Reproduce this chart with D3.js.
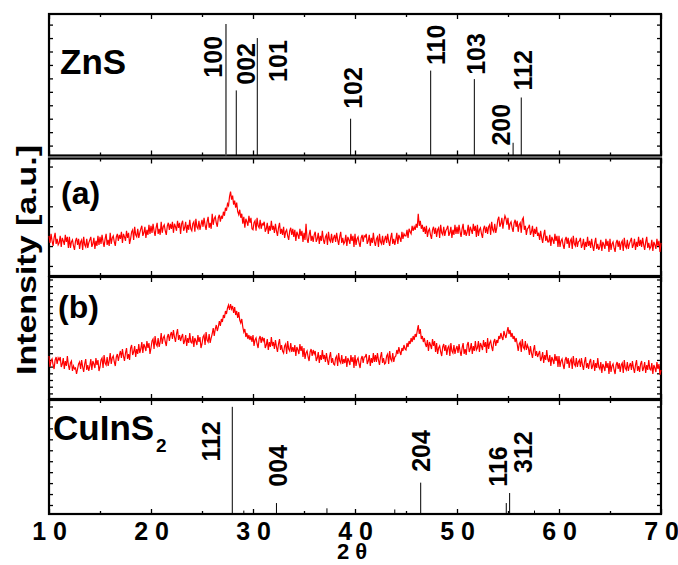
<!DOCTYPE html>
<html>
<head>
<meta charset="utf-8">
<script src="https://cdn.jsdelivr.net/npm/d3@7"></script>
<style>
body { margin: 0; background: #fff; }
svg { display: block; font-family: "Liberation Sans", Arial, sans-serif; }
</style>
</head>
<body>
<svg id="chart" width="678" height="565"></svg>
<script>
'use strict';

// x axis
const xTicks = [10, 20, 30, 40, 50, 60, 70];
const xTickLabels = ["1 0", "2 0", "3 0", "4 0", "5 0", "6 0", "7 0"];

// measured patterns, sampled every 0.1 deg from 10 to 70 (one row per degree)
const thetaStart = 10;
const thetaStep = 0.1;
const sampleA = [
	40,33,42,35,30,38,43,32,37,31, 33,40,29,38,35,31,41,34,39,28,
	39,28,34,36,30,26,35,38,31,37, 27,34,36,26,39,31,29,37,28,33,
	36,39,29,32,38,27,35,30,40,31, 39,32,41,34,29,37,42,31,36,30,
	43,32,38,40,34,30,39,42,35,41, 37,44,33,42,39,35,45,38,43,32,
	37,44,46,36,49,41,39,47,38,43, 47,50,40,43,49,38,46,41,51,42,
	50,43,52,45,40,48,53,42,47,41, 54,43,49,51,45,41,50,53,46,52,
	47,54,43,52,49,45,55,48,53,42, 52,55,45,48,54,43,51,46,56,47,
	45,52,54,44,57,49,47,55,46,51, 56,49,58,51,46,54,59,48,53,47,
	62,51,57,59,53,49,58,61,54,60, 57,64,60,68,65,72,70,79,84,76,
	80,71,75,68,73,64,61,66,58,62, 52,59,48,57,54,50,60,53,58,47,
	46,53,55,45,58,50,48,56,47,52, 51,54,44,47,53,42,50,45,55,46,
	50,43,52,45,40,48,53,42,47,41, 49,38,44,46,40,36,45,48,41,47,
	39,46,35,44,41,37,47,40,45,34, 43,36,52,37,33,41,46,35,40,34,
	41,44,34,37,43,32,40,35,45,36, 32,39,41,31,44,36,34,42,33,38,
	41,34,43,36,31,39,44,33,38,32, 34,41,30,39,36,32,42,35,40,29,
	42,31,37,39,33,29,38,41,34,40, 39,42,32,35,41,30,38,33,43,34,
	30,37,39,29,42,34,32,40,31,36, 40,33,42,35,30,38,43,32,37,31,
	36,43,32,41,38,34,44,37,42,40, 40,46,38,47,44,42,50,45,49,46,
	52,48,62,50,55,47,51,44,49,42, 50,39,45,47,41,37,46,49,42,48,
	39,46,48,38,51,43,41,49,40,45, 47,50,40,43,49,38,46,41,51,42,
	49,42,51,44,39,47,52,41,46,40, 44,51,40,49,46,42,52,45,50,39,
	51,40,46,48,42,38,47,50,43,49, 42,49,51,41,54,46,44,52,43,48,
	56,59,49,52,58,47,55,60,57,51, 58,46,52,54,48,44,53,56,49,55,
	44,51,53,43,56,58,46,50,41,47, 48,51,41,44,50,39,47,42,49,40,
	43,36,45,38,33,41,46,35,40,34, 34,41,30,39,36,32,42,35,40,29,
	40,29,35,37,31,27,36,39,32,38, 28,35,37,27,40,32,30,38,29,34,
	35,38,28,31,37,26,34,29,39,30, 35,28,37,30,25,33,38,27,32,26,
	29,36,25,34,31,27,37,30,35,24, 37,26,32,34,28,24,33,36,29,35,
	26,33,35,25,38,30,28,36,27,32, 35,38,28,31,37,26,34,29,39,30,
	36,29,38,31,26,34,39,28,33,27, 29,36,25,34,31,27,37,30,35,24,
	33
];
const sampleB = [
	43,32,38,40,34,30,39,42,35,41, 39,42,32,35,41,30,38,33,43,34,
	29,36,38,28,33,30,31,25,30,35, 37,30,39,32,27,35,40,29,34,28,
	33,40,29,38,35,31,41,34,39,28, 32,39,41,31,44,36,34,42,33,38,
	46,35,41,43,37,33,42,45,38,44, 48,41,50,43,38,46,51,40,45,39,
	51,54,44,47,53,42,50,45,55,46, 50,57,46,55,52,48,58,51,56,45,
	51,58,60,50,63,55,53,61,52,57, 66,55,61,63,57,53,62,65,58,64,
	67,60,69,62,57,65,70,59,64,58, 62,65,55,58,64,53,61,56,66,57,
	56,63,52,61,58,54,64,57,62,51, 55,62,64,54,67,59,57,65,56,61,
	65,71,63,70,74,68,72,78,73,80, 77,84,81,88,85,91,94,89,95,90,
	93,86,92,84,88,81,87,79,76,80, 72,67,70,62,66,60,64,59,63,57,
	64,53,59,61,55,51,60,63,56,62, 58,61,51,54,60,49,57,52,62,53,
	57,50,59,52,47,55,60,49,54,48, 46,53,55,45,58,50,48,56,47,52,
	47,54,43,52,49,45,55,48,53,42, 51,40,46,48,42,38,47,50,43,49,
	45,48,38,41,47,36,44,39,49,40, 44,37,46,39,34,42,47,36,41,35,
	34,41,43,33,46,38,36,44,35,40, 36,43,32,41,38,34,44,37,42,31,
	44,33,39,41,35,31,40,43,36,42, 42,45,35,38,44,33,41,36,46,37,
	44,37,46,39,34,42,47,36,41,35, 36,43,45,35,48,40,38,46,37,42,
	43,49,45,52,47,44,51,48,54,50, 49,56,52,58,55,61,57,63,59,65,
	62,68,74,65,70,60,63,57,61,55, 52,59,48,57,54,50,60,53,58,47,
	56,45,51,53,47,43,52,55,48,54, 44,51,53,43,56,48,46,54,45,50,
	53,46,55,48,43,51,56,45,50,44, 54,57,47,50,56,45,53,48,58,49,
	51,58,47,56,53,49,59,52,57,46, 61,50,56,58,52,48,57,60,53,59,
	56,63,60,66,62,59,68,64,61,67, 72,65,69,62,66,60,63,57,61,55,
	48,55,57,47,60,52,50,58,49,54, 51,44,53,46,41,49,54,43,48,42,
	45,48,38,41,47,36,44,39,49,40, 37,44,33,42,39,35,45,38,43,32,
	43,32,38,40,34,30,39,42,35,41, 31,38,40,30,43,35,33,41,32,37,
	39,32,41,34,29,37,42,31,36,30, 37,40,30,33,39,28,36,31,41,32,
	30,37,26,35,32,28,38,31,36,25, 38,27,33,35,29,25,34,37,30,36,
	27,34,36,26,39,31,29,37,28,33, 36,29,38,31,26,34,39,28,33,27,
	35,38,28,31,37,26,34,29,39,30, 29,36,25,34,31,27,37,30,35,24,
	29
];

// ZnS reference lines
const znsHkl = ["100", "002", "101", "102", "110", "103", "200", "112"];
const znsPos = [27.35, 28.36, 30.42, 39.57, 47.42, 51.7, 55.5, 56.3];
const znsInt = [93, 46, 83, 26, 60, 54, 9, 41];
const znsLabelPos = [26.96, 30.2, 33.33, 40.69, 48.82, 52.75, 55.2, 57.35];
const znsLabelInt = [55, 50, 52, 33, 64, 57, 7, 46];

// CuInS2 reference lines (last four unlabelled)
const cisHkl = ["112", "004", "204", "116", "312"];
const cisPos = [27.97, 32.3, 46.44, 54.83, 55.16, 29.1, 37.25, 43.9, 57.6];
const cisInt = [94, 9.6, 27.5, 9.6, 18.4, 3, 5, 4, 3];
const cisLabelPos = [26.76, 33.33, 47.35, 54.9, 57.35];
const cisLabelInt = [46, 24, 37, 24, 36];

const svg = d3.select("#chart");
const x = d3.scaleLinear().domain([10, 70]).range([49, 661]);

const panels = [
	{top: 14, bottom: 155.5, domain: [0, 100], yTicks: d3.range(7, 100, 9.5)},
	{top: 158.5, bottom: 276, domain: [0, 117], yTicks: d3.range(10, 117, 19.8)},
	{top: 277, bottom: 399, domain: [0, 122], yTicks: d3.range(5.6, 122, 6.7)},
	{top: 400, bottom: 514, domain: [0, 100], yTicks: d3.range(7.9, 100, 9.6)}
];
panels.forEach(p => {
	p.y = d3.scaleLinear().domain(p.domain).range([p.bottom, p.top]);
});

const xMinor = d3.range(10, 71, 5);

// frames and inward ticks
panels.forEach(p => {
	const g = svg.append("g");

	const bottom = g.append("g")
		.attr("transform", "translate(0," + p.bottom + ")")
		.call(d3.axisBottom(x).tickValues(xMinor).tickSize(-5).tickFormat(""));
	bottom.selectAll(".tick line").filter(d => d % 10 !== 0).attr("y2", -3);

	const top = g.append("g")
		.attr("transform", "translate(0," + p.top + ")")
		.call(d3.axisTop(x).tickValues(xMinor).tickSize(-5).tickFormat(""));
	top.selectAll(".tick line").filter(d => d % 10 !== 0).attr("y2", 3);

	g.append("g")
		.attr("transform", "translate(" + x(10) + ",0)")
		.call(d3.axisLeft(p.y).tickValues(p.yTicks).tickSize(-4).tickFormat(""));
	g.append("g")
		.attr("transform", "translate(" + x(70) + ",0)")
		.call(d3.axisRight(p.y).tickValues(p.yTicks).tickSize(-4).tickFormat(""));

	g.selectAll(".domain").remove();
	g.selectAll(".tick line").attr("stroke", "#000").attr("stroke-width", 1.3);

	g.append("rect")
		.attr("x", x(10))
		.attr("y", p.top)
		.attr("width", x(70) - x(10))
		.attr("height", p.bottom - p.top)
		.attr("fill", "none")
		.attr("stroke", "#000")
		.attr("stroke-width", 2.2);
});

// bottom tick labels
const xAxisLabels = svg.append("g")
	.attr("transform", "translate(0," + panels[3].bottom + ")")
	.call(d3.axisBottom(x).tickValues(xTicks).tickSize(0).tickPadding(8)
		.tickFormat((d, i) => xTickLabels[i]));
xAxisLabels.select(".domain").remove();
xAxisLabels.selectAll("text")
	.attr("font-size", 25)
	.attr("font-weight", "bold")
	.attr("font-family", "'Liberation Sans', Arial, sans-serif")
	.attr("fill", "#000");

// stick patterns
const drawSticks = (p, pos, ints, hkl, labelPos, labelInt) => {
	const g = svg.append("g");
	g.selectAll("line")
		.data(pos)
		.enter().append("line")
			.attr("x1", d => x(d))
			.attr("x2", d => x(d))
			.attr("y1", p.y(0))
			.attr("y2", (d, i) => p.y(ints[i]))
			.attr("stroke", (d, i) => (i === 0 && hkl === znsHkl) ? "#555" : "#000")
			.attr("stroke-width", (d, i) => (i === 0 && hkl === znsHkl) ? 1.6 : 1);
	g.selectAll("text")
		.data(hkl)
		.enter().append("text")
			.attr("transform", (d, i) => "translate(" + x(labelPos[i]) + "," + p.y(labelInt[i]) + ") rotate(-90)")
			.attr("font-size", 25)
			.attr("font-weight", "bold")
			.text(d => d);
};
drawSticks(panels[0], znsPos, znsInt, znsHkl, znsLabelPos, znsLabelInt);
drawSticks(panels[3], cisPos, cisInt, cisHkl, cisLabelPos, cisLabelInt);

// measured curves
const drawCurve = (p, values) => {
	const line = d3.line()
		.x((d, i) => x(thetaStart + i * thetaStep))
		.y(d => p.y(d));
	svg.append("path")
		.datum(values)
		.attr("d", line)
		.attr("fill", "none")
		.attr("stroke", "#ff0000")
		.attr("stroke-width", 1.2);
};
drawCurve(panels[1], sampleA);
drawCurve(panels[2], sampleB);

// panel captions
svg.append("text")
	.attr("x", 60).attr("y", 74)
	.attr("font-size", 35).attr("font-weight", "bold")
	.text("ZnS");
svg.append("text")
	.attr("x", 61).attr("y", 204)
	.attr("font-size", 32).attr("font-weight", "bold")
	.text("(a)");
svg.append("text")
	.attr("x", 58).attr("y", 318)
	.attr("font-size", 32).attr("font-weight", "bold")
	.text("(b)");
const cis = svg.append("text")
	.attr("x", 53).attr("y", 440)
	.attr("font-size", 35).attr("font-weight", "bold");
cis.append("tspan").text("CuInS");
cis.append("tspan").attr("font-size", 19).attr("dy", 12).attr("dx", 2).text("2");

// axis titles
svg.append("text")
	.attr("transform", "translate(36,260) rotate(-90)")
	.attr("text-anchor", "middle")
	.attr("font-size", 28)
	.attr("font-weight", "bold")
	.attr("textLength", 230)
	.attr("lengthAdjust", "spacingAndGlyphs")
	.text("Intensity [a.u.]");
svg.append("text")
	.attr("x", 352).attr("y", 559)
	.attr("text-anchor", "middle")
	.attr("font-size", 22)
	.attr("font-weight", "bold")
	.text("2 θ");
</script>
</body>
</html>
